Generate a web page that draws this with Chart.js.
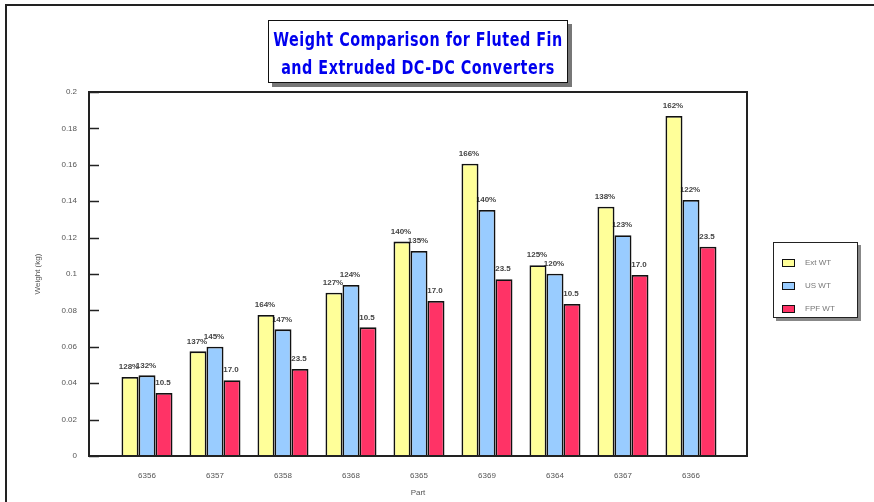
<!DOCTYPE html>
<html>
<head>
<meta charset="utf-8">
<script src="https://cdn.jsdelivr.net/npm/chart.js@4/dist/chart.umd.min.js"></script>
<style>
  html, body { margin: 0; padding: 0; background: #fff; }
  #wrap { position: relative; width: 874px; height: 502px; overflow: hidden; }
  #frame {
    position: absolute; left: 5px; top: 4px; width: 900px; height: 520px;
    border-top: 2px solid #222; border-left: 2px solid #222;
  }
  #chart { position: absolute; left: 0; top: 0; }
  #title {
    position: absolute; left: 268px; top: 20px; width: 300px; height: 63px;
    border: 1.5px solid #111; box-shadow: 4px 4px 0 #777; background: #fff;
    box-sizing: border-box; padding-top: 4px; text-align: center;
  }
  #title span {
    display: block; white-space: nowrap; color: #0000ee; margin: 0 -70px;
    font: bold 19px "DejaVu Sans", sans-serif; font-stretch: condensed;
    letter-spacing: 0.6px;
    line-height: 28px; transform: scaleX(0.84); transform-origin: center;
  }
  #legend {
    position: absolute; left: 773px; top: 242px; width: 85px; height: 76px;
    border: 1.5px solid #222; box-shadow: 3px 3px 0 #888; background: #fff;
    box-sizing: border-box; padding-top: 8px;
  }
  .item { height: 23px; display: flex; align-items: center; padding-left: 8px; }
  .sw { width: 11px; height: 6px; border: 1.5px solid #111; margin-right: 10px; }
  .lbl { font: 8px "Liberation Sans", Arial, sans-serif; color: #777; }
</style>
</head>
<body>
<div id="wrap">
  <div id="frame"></div>
  <canvas id="chart" width="874" height="502"></canvas>
  <div id="title"><span>Weight Comparison for Fluted Fin</span><span>and Extruded DC-DC Converters</span></div>
  <div id="legend"></div>
</div>
<script>
const parts = ["6356", "6357", "6358", "6368", "6365", "6369", "6364", "6367", "6366"];
const seriesNames = ["Ext WT", "US WT", "FPF WT"];
const seriesColors = ["#ffff99", "#99ccff", "#ff3366"];

const extWt = [0.0434, 0.0575, 0.0775, 0.0897, 0.1178, 0.1606, 0.1048, 0.1370, 0.1868];
const usWt = [0.0443, 0.0600, 0.0696, 0.0940, 0.1126, 0.1352, 0.1002, 0.1213, 0.1407];
const fpfWt = [0.0346, 0.0416, 0.0478, 0.0707, 0.0852, 0.0971, 0.0835, 0.0995, 0.1150];

const extLabels = ["128%", "137%", "164%", "127%", "140%", "166%", "125%", "138%", "162%"];
const usLabels = ["132%", "145%", "147%", "124%", "135%", "140%", "120%", "123%", "122%"];
const fpfLabels = ["10.5", "17.0", "23.5", "10.5", "17.0", "23.5", "10.5", "17.0", "23.5"];

const yTicks = [0, 0.02, 0.04, 0.06, 0.08, 0.1, 0.12, 0.14, 0.16, 0.18, 0.2];

const FONT = '"Liberation Sans", Arial, sans-serif';

const toPoints = (vals) => vals.map((v, i) => ({ x: i, y: v }));

const allValues = [extWt, usWt, fpfWt];
const allLabels = [extLabels, usLabels, fpfLabels];

// value labels go down first so the neighbouring bars hide bits of them
const decor = {
  id: "decor",
  beforeDatasetsDraw(chart) {
    const ctx = chart.ctx;
    ctx.save();
    ctx.font = `bold 8px ${FONT}`;
    ctx.fillStyle = "#444";
    ctx.textAlign = "center";
    ctx.textBaseline = "middle";
    chart.data.datasets.forEach((ds, di) => {
      chart.getDatasetMeta(di).data.forEach((bar, i) => {
        ctx.fillText(ds.valueLabels[i], bar.x - 1, bar.y - 10);
      });
    });
    ctx.restore();
  },
  afterDatasetsDraw(chart) {
    const { ctx, chartArea: a, scales } = chart;
    ctx.save();
    ctx.strokeStyle = "#222";
    ctx.lineWidth = 2;
    ctx.strokeRect(a.left, a.top, a.right - a.left, a.bottom - a.top);
    ctx.lineWidth = 1.5;
    for (const v of yTicks) {
      const py = Math.round(scales.y.getPixelForValue(v)) + 0.5;
      ctx.beginPath();
      ctx.moveTo(a.left, py);
      ctx.lineTo(a.left + 10, py);
      ctx.stroke();
    }
    ctx.restore();
  },
};

new Chart(document.getElementById("chart"), {
  type: "bar",
  data: {
    datasets: seriesNames.map((name, k) => ({
      label: name,
      data: toPoints(allValues[k]),
      valueLabels: allLabels[k],
      backgroundColor: seriesColors[k],
      borderColor: "#111",
      borderWidth: 1.8,
      categoryPercentage: 0.75,
      barPercentage: 1.0,
    })),
  },
  options: {
    responsive: false,
    animation: false,
    layout: { padding: { top: 92, right: 127, left: 0, bottom: 0 } },
    scales: {
      x: {
        type: "linear",
        offset: false,
        min: -0.853,
        max: 8.824,
        afterBuildTicks: (s) => { s.ticks = parts.map((p, i) => ({ value: i })); },
        afterFit: (s) => { s.height = 46; },
        ticks: {
          callback: (v) => parts[v],
          color: "#555",
          font: { size: 8, family: FONT },
          padding: 15,
          autoSkip: false,
          maxRotation: 0,
        },
        grid: { display: false, drawTicks: false },
        border: { display: false },
        title: {
          display: true,
          text: "Part",
          color: "#555",
          font: { size: 8, family: FONT },
          padding: { top: 3 },
        },
      },
      y: {
        min: 0,
        max: 0.2,
        afterBuildTicks: (s) => { s.ticks = yTicks.map((v) => ({ value: v })); },
        afterFit: (s) => { s.width = 89; },
        ticks: {
          callback: (v) => String(Math.round(v * 100) / 100),
          color: "#555",
          font: { size: 8, family: FONT },
          padding: 12,
        },
        grid: { display: false, drawTicks: false },
        border: { display: false },
        title: {
          display: true,
          text: "Weight (kg)",
          color: "#555",
          font: { size: 8, family: FONT },
          padding: { top: 33 },
        },
      },
    },
    plugins: {
      legend: { display: false },
      tooltip: { enabled: false },
      title: { display: false },
    },
  },
  plugins: [decor],
});

// legend box to the right
const legend = document.getElementById("legend");
seriesNames.forEach((name, k) => {
  const row = document.createElement("div");
  row.className = "item";
  row.innerHTML = `<span class="sw" style="background:${seriesColors[k]}"></span><span class="lbl">${name}</span>`;
  legend.appendChild(row);
});
</script>
</body>
</html>
